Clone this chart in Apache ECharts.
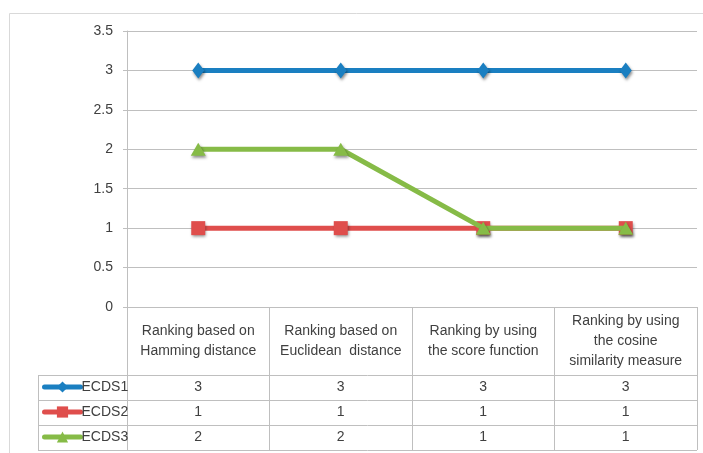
<!DOCTYPE html>
<html><head><meta charset="utf-8">
<script src="https://cdn.jsdelivr.net/npm/echarts@6/dist/echarts.min.js"></script>
<style>html,body{margin:0;padding:0;background:#fff}#c{width:703px;height:453px}</style>
</head><body><div id="c"></div>
<script>
const categories = ["Ranking based on\nHamming distance", "Ranking based on\nEuclidean  distance", "Ranking by using\nthe score function", "Ranking by using\nthe cosine\nsimilarity measure"];
const seriesNames = ["ECDS1", "ECDS2", "ECDS3"];
const ecds1 = [3, 3, 3, 3];
const ecds2 = [1, 1, 1, 1];
const ecds3 = [2, 2, 1, 1];
const yTicks = [0, 0.5, 1, 1.5, 2, 2.5, 3, 3.5];

const colors = ["#1a7fc1", "#df4e4c", "#86bb47"];
const symbols = ["diamond", "rect", "triangle"];
const symSizes = [[12, 16], 14, [15, 13]];
const values = [ecds1, ecds2, ecds3];
const font = "Liberation Sans";
const fs = 14;
const textColor = "#404040";
const gridColor = "#bfbfbf";

const chart = echarts.init(document.getElementById('c'));
const rowTop = 375, rowH = 25, tableLeft = 38, right = 697;

const option = {
  animation: false,
  textStyle: {fontFamily: font},
  grid: {left: 127, right: 703 - right, top: 31, bottom: 453 - 307, containLabel: false},
  legend: {
    orient: 'vertical', left: 42, top: rowTop + 5, padding: 0, itemGap: 11, itemWidth: 36, itemHeight: 14,
    textStyle: {fontFamily: font, fontSize: fs, color: textColor, padding: [0, 0, 0, -4]},
    lineStyle: {width: 5, cap: 'round'},
    data: seriesNames, selectedMode: false
  },
  xAxis: {
    type: 'category', data: categories, boundaryGap: true,
    axisLine: {lineStyle: {color: gridColor, width: 1}},
    axisTick: {show: true, interval: 0, length: 143, lineStyle: {color: gridColor}},
    axisLabel: {interval: 0, margin: 34, verticalAlign: 'middle', lineHeight: 20, fontSize: fs, color: textColor, fontFamily: font}
  },
  yAxis: {
    type: 'value', min: 0, max: 3.5, interval: 0.5,
    axisLine: {show: true, lineStyle: {color: gridColor}},
    axisTick: {show: true, length: 4, lineStyle: {color: gridColor}},
    splitLine: {lineStyle: {color: gridColor}},
    axisLabel: {margin: 14, fontSize: fs, color: textColor, fontFamily: font,
      formatter: v => yTicks.includes(v) ? String(v) : ''}
  },
  series: seriesNames.map((n, i) => ({
    name: n, type: 'line', data: values[i], symbol: symbols[i], symbolSize: symSizes[i],
    showAllSymbol: true, z: 2 + i,
    lineStyle: {color: colors[i], width: 5},
    itemStyle: {color: colors[i], shadowBlur: 3, shadowColor: 'rgba(0,0,0,0.45)', shadowOffsetY: 2, shadowOffsetX: 1}
  }))
};
chart.setOption(option);

// data table rows
const g = [];
for (let r = 0; r <= seriesNames.length; r++) {
  const y = rowTop + r * rowH + 0.5;
  g.push({type: 'line', shape: {x1: tableLeft, y1: y, x2: right, y2: y}, style: {stroke: gridColor, lineWidth: 1}});
}
g.push({type: 'line', shape: {x1: tableLeft + 0.5, y1: rowTop, x2: tableLeft + 0.5, y2: rowTop + rowH * 3 + 0.5}, style: {stroke: gridColor, lineWidth: 1}});
values.forEach((vals, r) => {
  vals.forEach((v, c) => {
    const x = chart.convertToPixel({xAxisIndex: 0}, c);
    g.push({type: 'text', x: x, y: rowTop + r * rowH + rowH / 2,
      style: {text: String(v), fontFamily: font, fontSize: fs, fill: textColor, align: 'center', verticalAlign: 'middle'}});
  });
});
// outer chart border
g.push({type: 'rect', shape: {x: 9.5, y: 13.5, width: 720, height: 460}, style: {fill: 'none', stroke: '#d9d9d9', lineWidth: 1}, z: -1});
chart.setOption({graphic: g});
</script></body></html>
